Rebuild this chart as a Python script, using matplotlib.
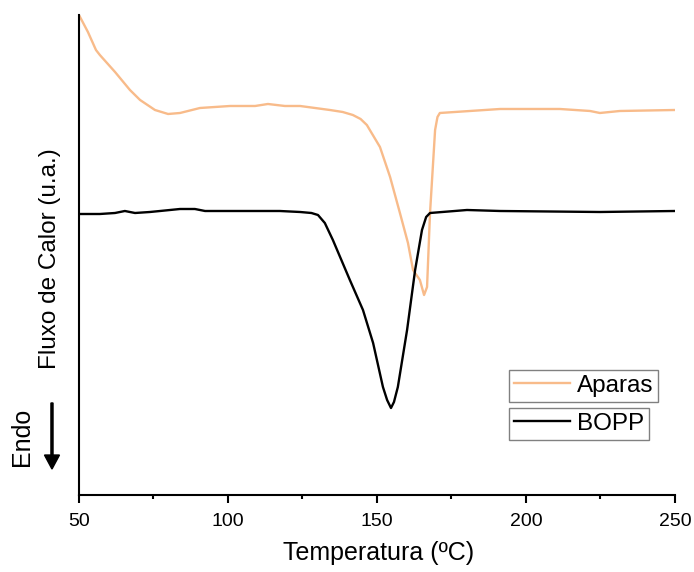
import matplotlib.pyplot as plt
from matplotlib.patches import FancyArrow
from matplotlib.ticker import MultipleLocator

plt.rcParams['font.family'] = ['Liberation Sans', 'DejaVu Sans']

# DSC curves, heat flow in arbitrary units
temp_bopp = [50, 57.0, 62.1, 65.4, 68.8, 73.8, 77.2, 83.9, 88.9, 92.3, 107.4, 117.4,
             124.2, 128.0, 130.2, 132.5, 135.2, 140.9, 145.3, 148.7, 152.0, 153.4,
             154.7, 155.7, 157.0, 160.1, 162.8, 165.1, 166.5, 167.8, 180.2, 191.3,
             224.8, 250]
flux_bopp = [281, 281, 282, 284, 282, 283, 284, 286, 286, 284, 284, 284,
             283, 282, 280, 272, 255, 215, 185, 152, 108, 95,
             87, 93, 108, 165, 225, 265, 278, 282, 285, 284,
             283, 284]

temp_aparas = [50, 53.0, 55.7, 57.0, 62.1, 67.1, 70.5, 75.5, 79.9, 83.9, 90.6, 100.7,
               109.1, 113.4, 119.1, 124.2, 134.2, 138.5, 141.9, 144.5, 146.6, 151.0,
               154.4, 157.7, 160.4, 162.1, 164.4, 165.8, 166.8, 167.8, 169.5, 170.3,
               171.1, 191.3, 211.4, 221.5, 224.8, 231.5, 250]
flux_aparas = [480, 463, 445, 440, 423, 405, 395, 385, 381, 382, 387, 389,
               389, 391, 389, 389, 385, 383, 380, 376, 370, 348,
               318, 282, 252, 225, 215, 200, 208, 282, 365, 378,
               382, 386, 386, 384, 382, 384, 385]

fig = plt.figure(figsize=(6.94, 5.72), dpi=100)
ax = fig.add_axes([0.1138, 0.1346, 0.8588, 0.8392])

l1, = ax.plot(temp_aparas, flux_aparas, color='#f8bb8a', lw=1.7, label='Aparas')
l2, = ax.plot(temp_bopp, flux_bopp, color='black', lw=1.7, label='BOPP')

ax.set_xlim(50, 250)
ax.set_ylim(0, 480)
ax.set_xticks([50, 100, 150, 200, 250])
ax.xaxis.set_minor_locator(MultipleLocator(25))
ax.set_yticks([])
ax.tick_params(axis='x', which='major', direction='out', length=6, width=1.5,
               labelsize=14, pad=7)
ax.tick_params(axis='x', which='minor', direction='out', length=3, width=1.5)
for s in ['top', 'right']:
    ax.spines[s].set_visible(False)
for s in ['left', 'bottom']:
    ax.spines[s].set_linewidth(1.5)

fig.text(0.545, 0.033, 'Temperatura (ºC)', fontsize=18, ha='center', va='center')
fig.text(0.072, 0.547, 'Fluxo de Calor (u.a.)', rotation=90, fontsize=17.5,
         ha='center', va='center')

# two separate legend boxes
leg_kw = dict(loc='upper left', fontsize=17.5, frameon=True, fancybox=False,
              edgecolor='#808080', framealpha=1, handlelength=2.3,
              borderpad=0.2, borderaxespad=0, handletextpad=0.3)
leg1 = ax.legend(handles=[l1], bbox_to_anchor=(0.7215, 0.2604), **leg_kw)
leg1.get_frame().set_linewidth(1.0)
ax.add_artist(leg1)
leg2 = ax.legend(handles=[l2], bbox_to_anchor=(0.7215, 0.181), **leg_kw)
leg2.get_frame().set_linewidth(1.0)

# Endo arrow
fig.text(0.032, 0.236, 'Endo', rotation=90, fontsize=18, ha='center', va='center')
fig.patches.append(FancyArrow(
    0.0749, 0.2955, 0, -0.1155, width=0.003, head_width=0.0216, head_length=0.0245,
    length_includes_head=True, color='black', transform=fig.transFigure))

fig.savefig('out.png', dpi=100)
